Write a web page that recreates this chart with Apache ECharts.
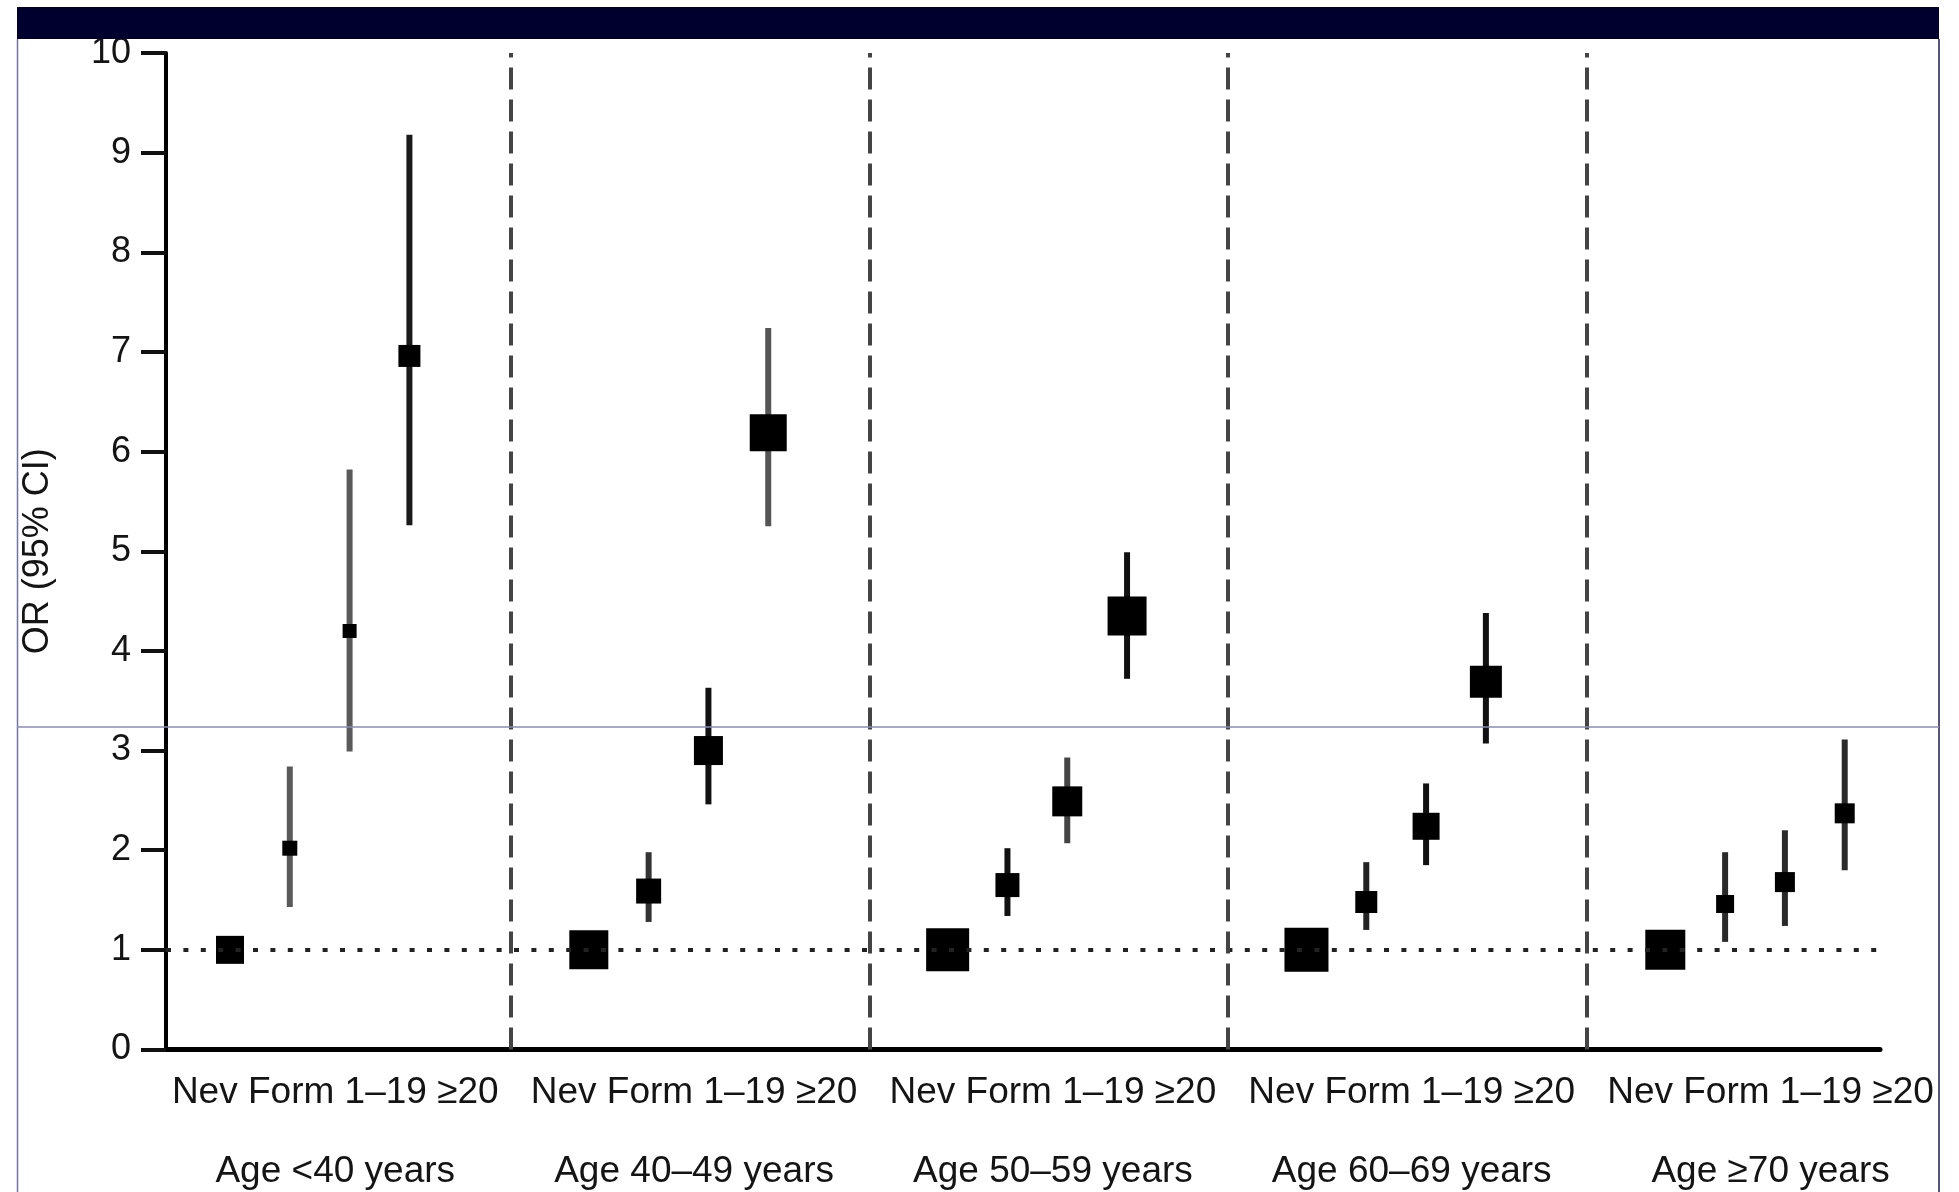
<!DOCTYPE html>
<html>
<head>
<meta charset="utf-8">
<style>
  html, body { margin: 0; padding: 0; background: #ffffff; }
  #chart { width: 1959px; height: 1192px; }
</style>
<script src="https://cdn.jsdelivr.net/npm/echarts@6.0.0/dist/echarts.min.js"></script>
</head>
<body>
<div id="chart"></div>
<script>
// Odds ratios for each age band and smoking level (Nev = reference group)
const ageGroups = ['Age <40 years', 'Age 40–49 years', 'Age 50–59 years', 'Age 60–69 years', 'Age ≥70 years'];
const smokingLevels = ['Nev', 'Form', '1–19', '≥20'];

const oddsRatio = [
  [1, 2.02, 4.20, 6.96],
  [1, 1.59, 3.00, 6.19],
  [1, 1.65, 2.49, 4.35],
  [1, 1.48, 2.24, 3.69],
  [1, 1.46, 1.68, 2.37]
];
const ciLower = [
  [null, 1.43, 2.99, 5.26],
  [null, 1.28, 2.46, 5.25],
  [null, 1.34, 2.07, 3.72],
  [null, 1.20, 1.85, 3.07],
  [null, 1.08, 1.24, 1.80]
];
const ciUpper = [
  [null, 2.84, 5.82, 9.18],
  [null, 1.98, 3.63, 7.24],
  [null, 2.02, 2.93, 4.99],
  [null, 1.88, 2.67, 4.38],
  [null, 1.98, 2.20, 3.11]
];
const yTicks = [0, 1, 2, 3, 4, 5, 6, 7, 8, 9, 10];

// Square side (px), reflecting the weight of each estimate
const squareSize = [
  [28, 15, 14, 22],
  [39, 25, 29, 37],
  [43, 24, 30, 39],
  [44, 22, 27, 32],
  [40, 18, 20, 20]
];
// Stroke shade of each interval line
const ciShade = [
  ['#222', '#5a5a5a', '#5a5a5a', '#1a1a1a'],
  ['#222', '#333', '#111', '#555'],
  ['#222', '#111', '#444', '#111'],
  ['#222', '#222', '#111', '#111'],
  ['#222', '#2a2a2a', '#2a2a2a', '#2a2a2a']
];

// Each age band occupies 6 slots on the x scale: 4 estimates plus spacing
const SLOT_PER_GROUP = 6;
const slotX = (g, i) => g * SLOT_PER_GROUP + i;
const dividerX = ageGroups.slice(1).map((_, g) => g * SLOT_PER_GROUP + 4.69);
const labelX = ageGroups.map((_, g) => g * SLOT_PER_GROUP + 1.76);

const pointData = [];
const ciData = [];
ageGroups.forEach((_, g) => {
  smokingLevels.forEach((_, i) => {
    pointData.push([slotX(g, i), oddsRatio[g][i], g, i]);
    if (ciLower[g][i] != null) {
      ciData.push([slotX(g, i), ciLower[g][i], ciUpper[g][i], g, i]);
    }
  });
});

const FONT = "'Liberation Sans', Arial, sans-serif";
const TEXT = '#141414';

const chart = echarts.init(document.getElementById('chart'), null, { renderer: 'canvas' });

chart.setOption({
  backgroundColor: '#ffffff',
  animation: false,
  grid: { left: 166, right: 79, top: 53, bottom: 142, containLabel: false },
  xAxis: {
    type: 'value',
    min: -1.07,
    max: 27.59,
    splitLine: { show: false },
    axisTick: { show: false },
    axisLine: { show: true, onZero: false, lineStyle: { color: '#000', width: 5 } },
    axisLabel: {
      customValues: labelX,
      hideOverlap: false,
      margin: 24,
      fontFamily: FONT,
      fontSize: 37,
      lineHeight: 39.5,
      color: TEXT,
      formatter: (v) => {
        const g = Math.round((v - 1.76) / SLOT_PER_GROUP);
        return smokingLevels.join(' ') + '\n\n' + ageGroups[g];
      }
    }
  },
  yAxis: {
    type: 'value',
    min: 0,
    max: 10,
    interval: 1,
    splitLine: { show: false },
    axisLine: { show: true, onZero: false, lineStyle: { color: '#000', width: 4 } },
    axisTick: { show: true, length: 25, lineStyle: { color: '#111', width: 4 } },
    axisLabel: {
      margin: 35,
      fontFamily: FONT,
      fontSize: 36,
      color: TEXT,
      formatter: (v) => (yTicks.indexOf(v) >= 0 ? String(v) : '')
    },
    name: 'OR (95% CI)',
    nameLocation: 'middle',
    nameRotate: 90,
    nameGap: 110,
    nameMoveOverlap: false,
    nameTextStyle: { fontFamily: FONT, fontSize: 36, color: TEXT }
  },
  series: [
    {
      // reference line at OR = 1 and dashed dividers between age bands
      type: 'scatter',
      data: [],
      z: 1,
      silent: true,
      markLine: {
        silent: true,
        symbol: 'none',
        label: { show: false },
        data: [
          { yAxis: 1, lineStyle: { type: [5, 12.4], width: 4, color: '#222' } },
          ...dividerX.map((x) => ({ xAxis: x, lineStyle: { type: [22, 10], width: 4, color: '#444' } }))
        ]
      }
    },
    {
      type: 'custom',
      z: 2,
      data: ciData,
      encode: { x: 0, y: [1, 2] },
      renderItem: (params, api) => {
        const x = api.value(0);
        const lo = api.coord([x, api.value(1)]);
        const hi = api.coord([x, api.value(2)]);
        const g = api.value(3), i = api.value(4);
        return {
          type: 'line',
          shape: { x1: lo[0], y1: lo[1], x2: hi[0], y2: hi[1] },
          style: { stroke: ciShade[g][i], lineWidth: 6, lineCap: 'butt' }
        };
      }
    },
    {
      type: 'scatter',
      z: 3,
      data: pointData,
      symbol: 'rect',
      symbolSize: (val) => squareSize[val[2]][val[3]],
      itemStyle: { color: '#000', opacity: 1 }
    }
  ],
  graphic: [
    { type: 'rect', shape: { x: 17, y: 7, width: 1922, height: 32 }, style: { fill: '#00002e' }, z: 10 },
    { type: 'line', shape: { x1: 17.5, y1: 39, x2: 17.5, y2: 1192 }, style: { stroke: '#7474a4', lineWidth: 1.5 }, z: 10 },
    { type: 'line', shape: { x1: 1939, y1: 39, x2: 1939, y2: 1192 }, style: { stroke: '#1a1a50', lineWidth: 1.5 }, z: 10 },
    { type: 'line', shape: { x1: 17, y1: 727, x2: 1939, y2: 727 }, style: { stroke: '#8a8ab4', lineWidth: 1.5 }, z: 10 }
  ]
});
</script>
</body>
</html>
